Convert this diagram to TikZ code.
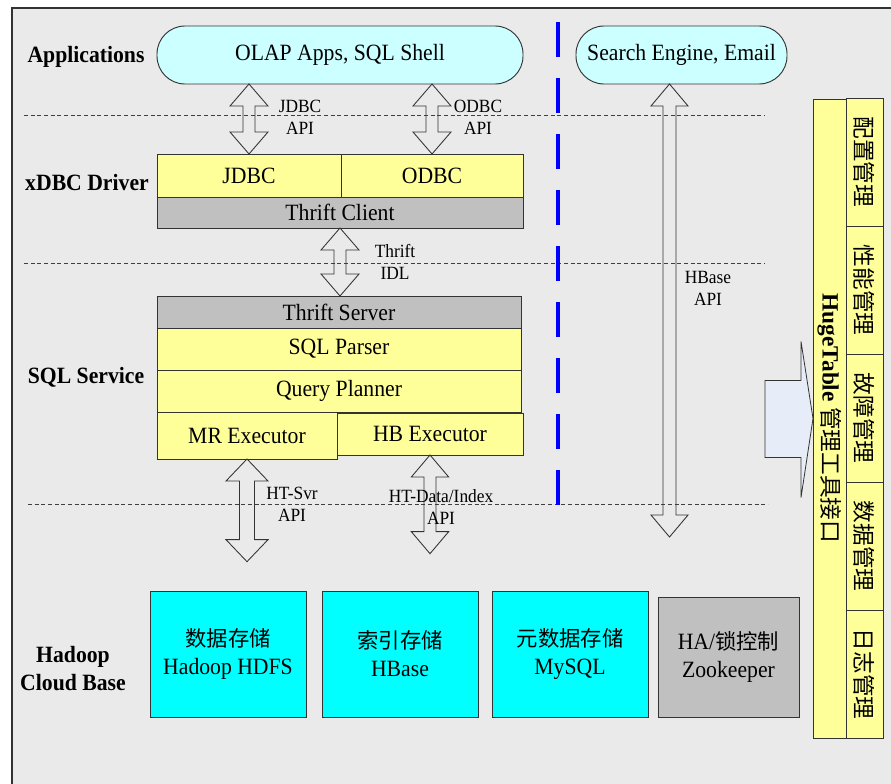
\documentclass[tikz,border=0pt]{standalone}
\usepackage{fontspec}
\usepackage{graphicx}
\setmainfont{Liberation Serif}[FakeStretch=0.93]
\newfontfamily\plainrm{Liberation Serif}
\newfontfamily\cjk{Noto Sans CJK SC}
\usetikzlibrary{positioning,calc}

\definecolor{bggray}{HTML}{EAEAEA}
\definecolor{appcyan}{HTML}{CCFFFF}
\definecolor{boxyellow}{HTML}{FFFF99}
\definecolor{boxgray}{HTML}{C0C0C0}
\definecolor{basecyan}{HTML}{00FFFF}
\definecolor{pushblue}{HTML}{E6EDF8}

\newcommand{\zh}[1]{{\cjk\fontsize{16}{21}\selectfont #1}}
\newcommand{\zhv}[1]{{\cjk\fontsize{17}{21}\selectfont #1}}
% hollow two-headed arrow: top, bottom, half head, half shaft
\newcommand{\biarrow}[4]{%
  \draw[blockarrow] let \p1=(#1), \p2=(#2) in
    (\x1,\y1) -- ({\x1+#3},{\y1-16.5pt}) -- ({\x1+#4},{\y1-16.5pt})
    -- ({\x1+#4},{\y2+16.5pt}) -- ({\x1+#3},{\y2+16.5pt}) -- (\x1,\y2)
    -- ({\x1-#3},{\y2+16.5pt}) -- ({\x1-#4},{\y2+16.5pt})
    -- ({\x1-#4},{\y1-16.5pt}) -- ({\x1-#3},{\y1-16.5pt}) -- cycle;}

\tikzset{
  wh/.style 2 args={minimum width=#1*0.75pt, minimum height=#2*0.75pt},
  box/.style={draw=black!80, line width=0.7pt, inner sep=0pt, outer sep=0pt,
    align=center, font=\fontsize{17.5}{21}\selectfont},
  ybox/.style={box, fill=boxyellow},
  gbox/.style={box, fill=boxgray},
  cbox/.style={box, fill=basecyan},
  capsule/.style={box, fill=appcyan, rounded corners=21pt},
  layer/.style={font=\bfseries\fontsize{17.5}{21}\selectfont, inner sep=0pt},
  note/.style={font=\fontsize{14}{16.5}\selectfont, align=center, inner sep=0pt},
  sepline/.style={black!75, line width=0.6pt, dash pattern=on 3pt off 2pt},
  blockarrow/.style={draw=black!80, line width=0.65pt}
}

\begin{document}
\begin{tikzpicture}[x=0.75pt,y=-0.75pt]
\useasboundingbox (0,0) rectangle (891,784);
\fill[bggray] (12,8) rectangle (891,784);
\draw[black!80, line width=0.9pt] (12,784) -- (12,8) -- (891,8);

% layer borders
\draw[sepline] (24,115) -- (765,115);
\draw[sepline] (24,263) -- (765,263);
\draw[sepline] (28,504) -- (768,504);
\draw[blue, line width=3pt, dash pattern=on 26.25pt off 15.75pt] (558,22) -- (558,507);

% layer names
\node[layer] (lapp) at (86,57) {Applications};
\node[layer] (ldrv) at (87,183) {xDBC Driver};
\node[layer] (lsql) at (86,377) {SQL Service};
\node[layer, align=center] (lbase) at (73,669) {Hadoop\\Cloud Base};

% applications
\node[capsule, wh={366}{58}] (apps) at (340,55) {OLAP Apps, SQL Shell};
\node[capsule, wh={211}{58}] (search) at (681.5,55) {Search Engine, Email};

% xDBC driver
\node[ybox, wh={184}{43}, anchor=north west] (jdbc) at (157,154) {JDBC};
\node[ybox, wh={182}{43}, anchor=north west] (odbc) at (jdbc.north east) {ODBC};
\node[gbox, wh={366}{31}, below=0pt of jdbc.south west, anchor=north west] (tclient) {Thrift Client};

% SQL service
\node[gbox, wh={364}{32}, anchor=north west] (tserver) at (157,296) {Thrift Server};
\node[ybox, wh={364}{42}, below=0pt of tserver] (parser) {SQL Parser};
\node[ybox, wh={364}{42}, below=0pt of parser] (planner) {Query Planner};
\node[ybox, wh={180}{47}, below=0pt of planner.south west, anchor=north west] (mrexec) {MR Executor};
\node[ybox, wh={186}{42}, anchor=north west] (hbexec) at ([yshift=-0.75pt]mrexec.north east) {HB Executor};

% cloud base
\node[cbox, wh={156}{126}, anchor=north west] (hdfs) at (150,591) {\zh{数据存储}\\Hadoop HDFS};
\node[cbox, wh={156}{126}, right=12pt of hdfs] (hbase) {\zh{索引存储}\\HBase};
\node[cbox, wh={156}{126}, right=10.5pt of hbase] (mysql) {\zh{元数据存储}\\MySQL};
\node[gbox, wh={141}{120}, right=7.5pt of mysql, yshift=-2.25pt] (zk) {HA/\zh{锁控制}\\Zookeeper};

% management tools
\node[ybox, wh={33}{639}, anchor=north west] (ht) at (813,99)
  {\rotatebox{-90}{{\plainrm\bfseries HugeTable} \zhv{管理工具接口}}};
\foreach \txt [count=\i] in {配置管理,性能管理,故障管理,数据管理,日志管理}
  \node[ybox, wh={37}{128}, anchor=north west] (c\i) at (846,{98+128*(\i-1)})
    {\rotatebox{-90}{\zhv{\txt}}};
\draw[black!80, line width=0.6pt, fill=pushblue] (ht.west) -- ++(-12,-77) -- ++(0,39)
  -- ++(-36,0) -- ++(0,77) -- ++(36,0) -- ++(0,40) -- cycle;

% interfaces
\coordinate (mrend) at ([yshift=-77pt]mrexec.south);
\coordinate (hbend) at ([yshift=-74pt]hbexec.south);
\coordinate (hbtop) at ([xshift=-9pt]search.south);
\coordinate (hbbot) at (669.5,537);
\biarrow{jdbc.north |- apps.south}{jdbc.north}{14.25pt}{4.5pt}
\biarrow{odbc.north |- apps.south}{odbc.north}{14.25pt}{4.5pt}
\biarrow{tclient.south}{tserver.north}{14.25pt}{4.5pt}
\biarrow{mrexec.south}{mrend}{15.75pt}{5.6pt}
\biarrow{hbexec.south}{hbend}{14pt}{4.5pt}
\biarrow{hbtop}{hbbot}{13.9pt}{4.9pt}

\node[note] (jdbcapi) at (300,117) {JDBC\\API};
\node[note] (odbcapi) at (478,117) {ODBC\\API};
\node[note] (idl) at (395,262) {Thrift\\IDL};
\node[note] (hbaseapi) at (708,288) {HBase\\API};
\node[note] (svrapi) at (292,504) {HT-Svr\\API};
\node[note] (dataapi) at (441,507) {HT-Data/Index\\API};
\end{tikzpicture}
\end{document}
